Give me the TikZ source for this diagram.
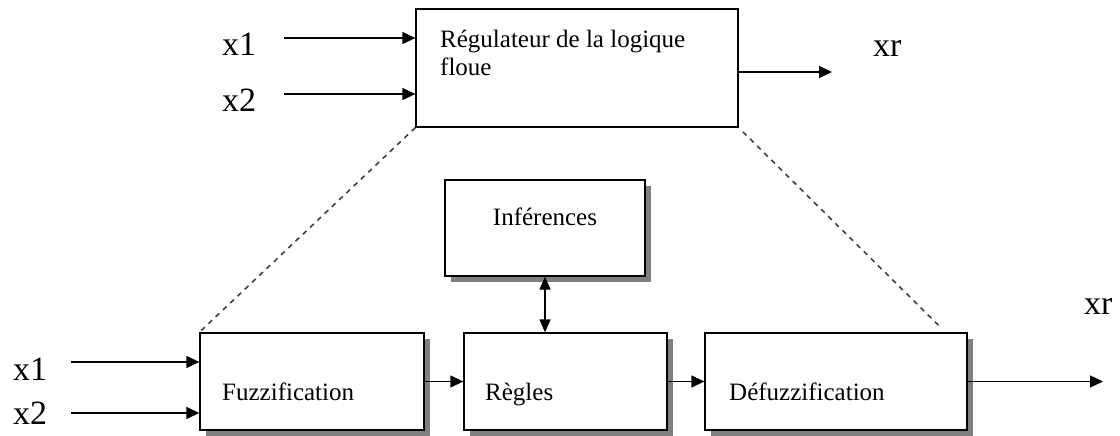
\documentclass[tikz,border=0pt]{standalone}
\usepackage{fontspec}
\setmainfont{Liberation Serif}
\usetikzlibrary{arrows.meta,shadows}

\begin{document}
\begin{tikzpicture}[x=1pt,y=-1pt,
		box/.style={draw,line width=1.3pt,fill=white,inner sep=0pt},
		shbox/.style={box,drop shadow={shadow xshift=6pt,shadow yshift=-6pt,fill=gray,opacity=1}},
		arr/.style={line width=1.3pt,-{Triangle[length=13pt,width=12pt]}},
		lbl/.style={font=\fontsize{34}{36}\selectfont,inner sep=0pt,anchor=base west},
		txt/.style={font=\fontsize{25}{28}\selectfont,inner sep=0pt}]
		\useasboundingbox (0,0) rectangle (1120,436);
		% boxes
		\node[box,minimum width=322pt,minimum height=118pt] (reg) at (577,68) {};
		\node[shbox,minimum width=200pt,minimum height=96pt] (inf) at (545,228) {};
		\node[shbox,minimum width=224pt,minimum height=97pt] (fuzz) at (312,381.5) {};
		\node[shbox,minimum width=203pt,minimum height=97pt] (regles) at (565.5,381.5) {};
		\node[shbox,minimum width=262pt,minimum height=97pt] (defuz) at (836,381.5) {};
		% texts
		\node[txt,anchor=north west,align=left] (regtxt) at (440,30) {Régulateur de la logique\\floue};
		\node[txt,anchor=base] (inftxt) at (545,225) {Inférences};
		\node[txt,anchor=base west] (fuzztxt) at (222,400) {Fuzzification};
		\node[txt,anchor=base west] (reglestxt) at (485,400) {Règles};
		\node[txt,anchor=base west] (defuztxt) at (729,400) {Défuzzification};
		% labels
		\node[lbl] (x1a) at (222,56) {x1};
		\node[lbl] (x2a) at (222,112) {x2};
		\node[lbl] (xra) at (873,57) {xr};
		\node[lbl] (x1b) at (13,380) {x1};
		\node[lbl] (x2b) at (13,424) {x2};
		\node[lbl] (xrb) at (1084,314) {xr};
		% free ends
		\coordinate (in1) at (284,38);
		\coordinate (in2) at (284,94);
		\coordinate (out1) at (832,72);
		\coordinate (in3) at (71,362);
		\coordinate (in4) at (71,413);
		\coordinate (out2) at (1103,381.5);
		\coordinate (dtop) at ([xshift=-22pt]defuz.north east);
		% connections
		\draw[arr] (in1) -- (in1 -| reg.west);
		\draw[arr] (in2) -- (in2 -| reg.west);
		\draw[arr] (out1 -| reg.east) -- (out1);
		\draw[arr] (in3) -- (in3 -| fuzz.west);
		\draw[arr] (in4) -- (in4 -| fuzz.west);
		\draw[arr] (fuzz.east) -- (regles.west);
		\draw[arr] (regles.east) -- (defuz.west);
		\draw[arr] (defuz.east) -- (out2);
		\draw[line width=1.3pt,{Triangle[length=13pt,width=11pt]}-{Triangle[length=13pt,width=11pt]}]
		(inf.south) -- (inf.south |- regles.north);
		\draw[line width=1.6pt,black!75,dash pattern=on 5pt off 5pt,shorten <=6pt,shorten >=6pt]
		(reg.south west) -- (fuzz.north west)
		(reg.south east) -- (dtop);
\end{tikzpicture}
\end{document}
